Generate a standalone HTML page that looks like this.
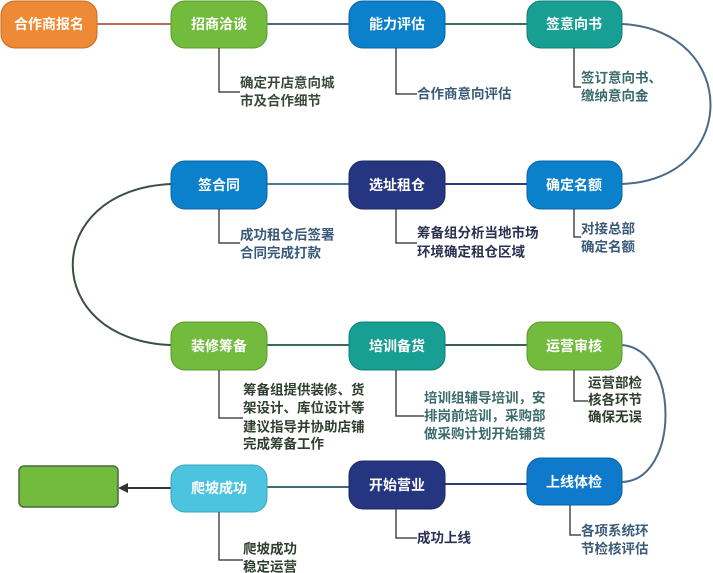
<!DOCTYPE html>
<html><head><meta charset="utf-8"><style>
html,body{margin:0;padding:0;background:#fff;width:713px;height:573px;overflow:hidden}
svg text{font-family:"Liberation Sans","Noto Sans CJK SC",sans-serif;font-weight:bold}
.n{font-size:14px;fill:#fff;text-anchor:middle;dominant-baseline:central}
.t{font-size:13.5px;dominant-baseline:central}
.l{fill:none;stroke:#4a4a4a;stroke-width:1.5}
</style></head><body>
<svg width="713" height="573" viewBox="0 0 713 573">
<g fill="none" stroke-width="2">
<line x1="97" y1="24" x2="171" y2="24" stroke="#b5705a"/>
<line x1="267" y1="24" x2="349" y2="24" stroke="#4a6a8a"/>
<line x1="445" y1="24" x2="527" y2="24" stroke="#3a7060"/>
<path d="M622 24 C 740 30, 740 180, 622 184" stroke="#4a6a8a"/>
<line x1="267" y1="184" x2="349" y2="184" stroke="#4a7a9a"/>
<line x1="445" y1="184" x2="527" y2="184" stroke="#2e3a7a"/>
<path d="M171 184 C 40 190, 40 340, 171 345" stroke="#3a5040"/>
<line x1="267" y1="345" x2="349" y2="345" stroke="#3a6a50"/>
<line x1="445" y1="345" x2="527" y2="345" stroke="#3a6050"/>
<path d="M622 345 C 680 350, 680 480, 622 482" stroke="#4a6a8a"/>
<line x1="267" y1="487" x2="349" y2="487" stroke="#3a7070"/>
<line x1="445" y1="484" x2="527" y2="484" stroke="#2e3a7a"/>
<line x1="171" y1="488" x2="126" y2="488" stroke="#333"/>
</g>
<polygon points="118,488 128,483 128,493" fill="#333"/>
<rect x="1" y="1" width="96" height="47" rx="14" fill="#ee8a35" stroke="#c56b25"/>
<rect x="171" y="1" width="96" height="47" rx="14" fill="#72bb3d" stroke="#5a9a30"/>
<rect x="349" y="1" width="96" height="47" rx="14" fill="#0b80cb" stroke="#0a65a5"/>
<rect x="527" y="1" width="95" height="47" rx="14" fill="#169f92" stroke="#107f75"/>
<rect x="171" y="161" width="96" height="48" rx="14" fill="#0b80cb" stroke="#0a65a5"/>
<rect x="349" y="161" width="96" height="48" rx="14" fill="#253580" stroke="#1a2860"/>
<rect x="527" y="161" width="95" height="48" rx="14" fill="#0b80cb" stroke="#0a65a5"/>
<rect x="171" y="322" width="96" height="48" rx="14" fill="#72bb3d" stroke="#5a9a30"/>
<rect x="349" y="322" width="96" height="48" rx="14" fill="#169f92" stroke="#107f75"/>
<rect x="527" y="322" width="95" height="48" rx="14" fill="#72bb3d" stroke="#5a9a30"/>
<rect x="171" y="465" width="96" height="47" rx="14" fill="#4cc4df" stroke="#3aa5c0"/>
<rect x="349" y="461" width="96" height="48" rx="14" fill="#253580" stroke="#1a2860"/>
<rect x="527" y="458" width="95" height="47" rx="14" fill="#0f7acb" stroke="#0a60a5"/>
<rect x="19" y="466" width="99" height="41" rx="5" fill="#72bb3d" stroke="#4a6a40" stroke-width="1.5"/>
<text class="n" x="49" y="24">合作商报名</text>
<text class="n" x="219" y="24">招商洽谈</text>
<text class="n" x="397" y="24">能力评估</text>
<text class="n" x="574" y="24">签意向书</text>
<text class="n" x="219" y="185">签合同</text>
<text class="n" x="397" y="185">选址租仓</text>
<text class="n" x="574" y="185">确定名额</text>
<text class="n" x="219" y="346">装修筹备</text>
<text class="n" x="397" y="346">培训备货</text>
<text class="n" x="574" y="346">运营审核</text>
<text class="n" x="219" y="488">爬坡成功</text>
<text class="n" x="397" y="485">开始营业</text>
<text class="n" x="574" y="482">上线体检</text>
<path class="l" d="M219 48 V92 H240"/>
<path class="l" d="M396 48 V94 H417"/>
<path class="l" d="M574 48 V87 H581"/>
<path class="l" d="M219 209 V243 H240"/>
<path class="l" d="M396 209 V243 H417"/>
<path class="l" d="M574 209 V237 H581"/>
<path class="l" d="M219 370 V418 H243"/>
<path class="l" d="M396 370 V416 H424"/>
<path class="l" d="M574 370 V401 H588"/>
<path class="l" d="M219 512 V560 H243"/>
<path class="l" d="M396 509 V538 H417"/>
<path class="l" d="M570 505 V535 H581"/>
<g class="t">
<text class="t" x="240" y="83" fill="#3a4a3a">确定开店意向城</text>
<text class="t" x="240" y="101" fill="#3a4a3a">市及合作细节</text>
<text class="t" x="417" y="94" fill="#3a5a7a">合作商意向评估</text>
<text class="t" x="581" y="78" fill="#3a6a6a">签订意向书、</text>
<text class="t" x="581" y="96" fill="#3a6a6a">缴纳意向金</text>
<text class="t" x="240" y="235" fill="#3a5a7a">成功租仓后签署</text>
<text class="t" x="240" y="253" fill="#3a5a7a">合同完成打款</text>
<text class="t" x="417" y="233" fill="#2a3050">筹备组分析当地市场</text>
<text class="t" x="417" y="252" fill="#2a3050">环境确定租仓区域</text>
<text class="t" x="581" y="229" fill="#3a5a7a">对接总部</text>
<text class="t" x="581" y="247" fill="#3a5a7a">确定名额</text>
<text class="t" x="243" y="390" fill="#2f3f2f">筹备组提供装修、货</text>
<text class="t" x="243" y="408" fill="#2f3f2f">架设计、库位设计等</text>
<text class="t" x="243" y="427" fill="#2f3f2f">建议指导并协助店铺</text>
<text class="t" x="243" y="444" fill="#2f3f2f">完成筹备工作</text>
<text class="t" x="424" y="398" fill="#3a6a6a">培训组辅导培训，安</text>
<text class="t" x="424" y="416" fill="#3a6a6a">排岗前培训，采购部</text>
<text class="t" x="424" y="434" fill="#3a6a6a">做采购计划开始铺货</text>
<text class="t" x="588" y="383" fill="#2f3f2f">运营部检</text>
<text class="t" x="588" y="400" fill="#2f3f2f">核各环节</text>
<text class="t" x="588" y="417" fill="#2f3f2f">确保无误</text>
<text class="t" x="243" y="549" fill="#2f3f2f">爬坡成功</text>
<text class="t" x="243" y="567" fill="#2f3f2f">稳定运营</text>
<text class="t" x="417" y="538" fill="#2a3050">成功上线</text>
<text class="t" x="581" y="531" fill="#3a5a7a">各项系统环</text>
<text class="t" x="581" y="549" fill="#3a5a7a">节检核评估</text>
</g>
</svg>
</body></html>
